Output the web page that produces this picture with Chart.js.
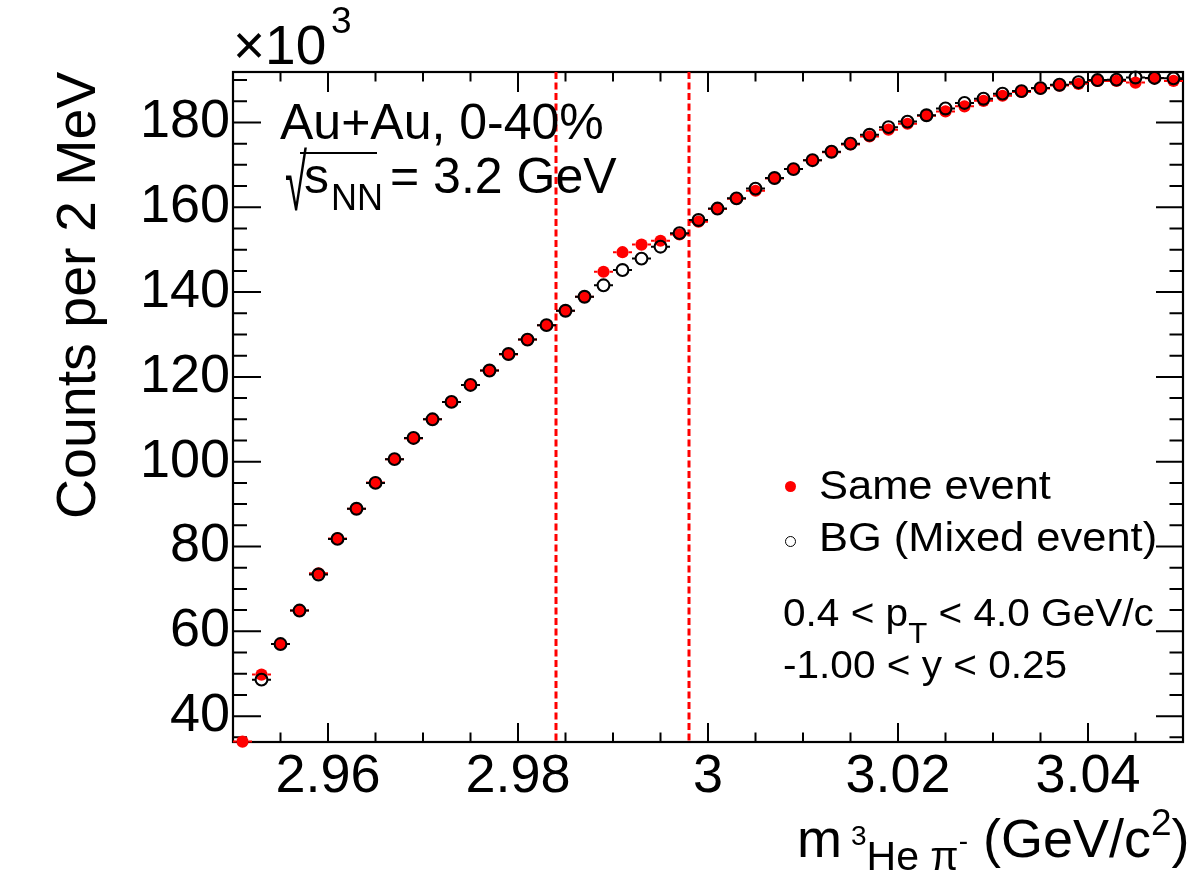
<!DOCTYPE html>
<html>
<head>
<meta charset="utf-8">
<title>Same event vs mixed event</title>
<script src="https://cdn.jsdelivr.net/npm/chart.js@4.4.1/dist/chart.umd.min.js"></script>
<style>
  html, body { margin: 0; padding: 0; background: #fff; }
  #wrap { position: relative; width: 1204px; height: 871px; overflow: hidden;
          font-family: 'Liberation Sans', Arial, Helvetica, sans-serif; color: #000; }
  #chart { position: absolute; left: 0; top: 0; }
  .txt { position: absolute; white-space: nowrap; line-height: 1; transform-origin: 0 0; }
  .rel { position: relative; }
  .mk { position: absolute; border-radius: 50%; box-sizing: border-box; }
</style>
</head>
<body>
<div id="wrap">
  <canvas id="chart" width="1204" height="871"></canvas>

  <!-- 軸の倍率 -->
  <div class="txt" style="left:233px;top:18px;font-size:55px;">×10</div>
  <div class="txt" style="left:331px;top:2px;font-size:37px;">3</div>

  <!-- 軸タイトル -->
  <div class="txt" id="ytitle" style="left:49px;top:520px;font-size:55.5px;transform:rotate(-90deg);">Counts per 2 MeV</div>
  <div class="txt" style="left:797px;top:811px;font-size:54px;">m<span class="rel" style="font-size:41px;top:13px;margin-left:9px;"><span class="rel" style="font-size:28px;top:-25px;">3</span>He π<span class="rel" style="font-size:28px;top:-20px;">-</span></span> (GeV/c<span class="rel" style="font-size:37px;top:-22px;">2</span>)</div>

  <!-- 注釈 -->
  <div class="txt" style="left:280px;top:97px;font-size:50px;">Au+Au, 0-40%</div>
  <div class="txt" style="left:285px;top:144px;font-size:50px;transform:scale(0.8,1.58);">√</div>
  <div style="position:absolute;left:300px;top:152px;width:77px;height:0;border-top:2px solid #000;"></div>
  <div class="txt" style="left:304px;top:151px;font-size:50px;">s</div>
  <div class="txt" style="left:331px;top:180px;font-size:36px;">NN</div>
  <div class="txt" style="left:390px;top:151px;font-size:50px;">= 3.2 GeV</div>

  <!-- 凡例 -->
  <div class="mk" style="left:785px;top:481px;width:11px;height:11px;background:#ff0000;"></div>
  <div class="mk" style="left:785px;top:536px;width:11px;height:11px;border:1.5px solid #000;"></div>
  <div class="txt" style="left:819px;top:465px;font-size:41px;transform:scaleX(1.06);">Same event</div>
  <div class="txt" style="left:819px;top:517px;font-size:41px;transform:scaleX(1.06);">BG (Mixed event)</div>

  <div class="txt" style="left:783px;top:593px;font-size:39px;transform:scaleX(1.04);">0.4 &lt; p<span class="rel" style="font-size:30px;top:17px;">T</span> &lt; 4.0 GeV/c</div>
  <div class="txt" style="left:783px;top:645px;font-size:39px;transform:scaleX(1.04);">-1.00 &lt; y &lt; 0.25</div>
</div>

<script>
// ビン中心 (GeV/c^2)、2 MeV 幅
const massBins = [
  2.951, 2.953, 2.955, 2.957, 2.959, 2.961, 2.963, 2.965, 2.967, 2.969,
  2.971, 2.973, 2.975, 2.977, 2.979, 2.981, 2.983, 2.985, 2.987, 2.989,
  2.991, 2.993, 2.995, 2.997, 2.999, 3.001, 3.003, 3.005, 3.007, 3.009,
  3.011, 3.013, 3.015, 3.017, 3.019, 3.021, 3.023, 3.025, 3.027, 3.029,
  3.031, 3.033, 3.035, 3.037, 3.039, 3.041, 3.043, 3.045, 3.047, 3.049,
];

// Same event のカウント (×10^3)
const sameEvent = [
  34.0, 49.8, 57.0, 64.9, 73.7, 81.9, 88.9, 95.1, 100.6, 105.5,
  110.0, 114.1, 118.1, 121.5, 125.3, 128.8, 132.2, 135.6, 138.9, 144.8,
  149.4, 151.2, 152.1, 153.6, 156.6, 159.6, 162.0, 163.9, 166.8, 169.0,
  171.1, 173.0, 174.8, 176.7, 178.3, 179.7, 181.6, 182.6, 183.8, 185.1,
  186.3, 187.2, 188.0, 188.7, 189.1, 189.8, 189.8, 189.4, 190.4, 189.8,
];

// 混合イベント (BG) のカウント (×10^3)、最初のビンは表示範囲外
const mixedEvent = [
  null, 48.6, 57.0, 64.9, 73.4, 81.8, 88.9, 95.0, 100.6, 105.6,
  110.0, 114.1, 118.1, 121.5, 125.4, 128.8, 132.2, 135.6, 138.9, 141.6,
  145.2, 147.9, 150.7, 153.9, 157.0, 159.7, 162.1, 164.4, 166.9, 169.0,
  171.1, 173.1, 175.0, 177.1, 178.9, 180.2, 181.7, 183.3, 184.6, 185.6,
  186.8, 187.4, 188.1, 188.9, 189.5, 190.0, 190.1, 190.6, 190.5, 190.4,
];

// 目盛り
const xTickValues = [2.96, 2.98, 3.00, 3.02, 3.04];
const xTickLabels = ['2.96', '2.98', '3', '3.02', '3.04'];
const yTickValues = [40, 60, 80, 100, 120, 140, 160, 180];
const yTickLabels = ['40', '60', '80', '100', '120', '140', '160', '180'];

// 信号領域の境界 (赤の破線)
const massWindow = [2.984, 2.998];

const X_MIN = 2.95, X_MAX = 3.05;
const Y_MIN = 33.9, Y_MAX = 191.9;
const BIN_HALF = 0.001;

// ROOT風のフレームと内向きの目盛り
const rootFrame = {
  id: 'rootFrame',
  beforeDatasetsDraw(chart) {
    const { ctx: c, chartArea: a, scales: { x, y } } = chart;
    c.save();
    c.strokeStyle = '#000';
    c.lineWidth = 2;
    c.beginPath();
    // x 軸: 0.005 ごとに小目盛り
    for (let k = 1; k < 20; k++) {
      const v = X_MIN + k * 0.005;
      const px = x.getPixelForValue(v);
      const major = xTickValues.some((t) => Math.abs(t - v) < 1e-6);
      const lb = major ? 19 : 9.5;
      const lt = major ? 20 : 9.5;
      c.moveTo(px, a.bottom); c.lineTo(px, a.bottom - lb);
      c.moveTo(px, a.top); c.lineTo(px, a.top + lt);
    }
    // y 軸: 5 ごとに小目盛り
    for (let v = 35; v < Y_MAX; v += 5) {
      const py = y.getPixelForValue(v);
      const major = yTickValues.includes(v);
      const ll = major ? 28 : 14;
      const lr = major ? 27 : 13.5;
      c.moveTo(a.left, py); c.lineTo(a.left + ll, py);
      c.moveTo(a.right, py); c.lineTo(a.right - lr, py);
    }
    c.stroke();
    c.lineWidth = 2.2;
    c.strokeRect(a.left, a.top, a.right - a.left, a.bottom - a.top);

    // 質量ウィンドウの破線
    c.strokeStyle = '#ff0000';
    c.lineWidth = 3;
    c.setLineDash([7, 3.5]);
    massWindow.forEach((m) => {
      const px = x.getPixelForValue(m);
      c.beginPath();
      c.moveTo(px, a.top);
      c.lineTo(px, a.bottom);
      c.stroke();
    });
    c.restore();
  },
};

// ビン幅の横エラーバー（マーカー内部は描かない）
const binErrorBars = {
  id: 'binErrorBars',
  beforeDatasetDraw(chart, args) {
    const ds = chart.data.datasets[args.index];
    const { ctx: c, scales: { x, y } } = chart;
    const r = ds.pointRadius;
    c.save();
    c.strokeStyle = ds.barColor;
    c.lineWidth = 2;
    c.beginPath();
    ds.data.forEach((p) => {
      if (p.y == null) return;
      const cx = x.getPixelForValue(p.x);
      const py = y.getPixelForValue(p.y);
      c.moveTo(x.getPixelForValue(p.x - BIN_HALF), py); c.lineTo(cx - r, py);
      c.moveTo(cx + r, py); c.lineTo(x.getPixelForValue(p.x + BIN_HALF), py);
    });
    c.stroke();
    c.restore();
  },
};

const toPoints = (vals) => massBins.map((m, i) => ({ x: m, y: vals[i] }));

new Chart(document.getElementById('chart').getContext('2d'), {
  type: 'scatter',
  data: {
    datasets: [
      {
        label: 'Same event',
        data: toPoints(sameEvent),
        order: 2,
        barColor: '#ff0000',
        pointRadius: 6.1,
        pointBackgroundColor: '#ff0000',
        pointBorderColor: '#ff0000',
        pointBorderWidth: 0,
        clip: false,
      },
      {
        label: 'BG (Mixed event)',
        data: toPoints(mixedEvent),
        order: 1,
        barColor: '#000000',
        pointRadius: 5.9,
        pointBackgroundColor: 'rgba(0,0,0,0)',
        pointBorderColor: '#000000',
        pointBorderWidth: 2.1,
        clip: false,
      },
    ],
  },
  options: {
    responsive: false,
    animation: false,
    events: [],
    layout: { padding: { left: 0, right: 21, top: 72, bottom: 0 } },
    plugins: {
      legend: { display: false },
      tooltip: { enabled: false },
    },
    scales: {
      x: {
        type: 'linear',
        min: X_MIN,
        max: X_MAX,
        afterFit: (scale) => { scale.height = 129; },
        afterBuildTicks: (scale) => { scale.ticks = xTickValues.map((v) => ({ value: v })); },
        grid: { display: false, drawTicks: false },
        border: { display: false },
        ticks: {
          autoSkip: false,
          maxRotation: 0,
          padding: 3,
          color: '#000',
          font: { family: "'Liberation Sans', Arial, sans-serif", size: 54 },
          callback: (v, i) => xTickLabels[i],
        },
      },
      y: {
        type: 'linear',
        min: Y_MIN,
        max: Y_MAX,
        afterFit: (scale) => { scale.width = 233; },
        afterBuildTicks: (scale) => { scale.ticks = yTickValues.map((v) => ({ value: v })); },
        grid: { display: false, drawTicks: false },
        border: { display: false },
        ticks: {
          padding: 3,
          color: '#000',
          font: { family: "'Liberation Sans', Arial, sans-serif", size: 54 },
          callback: (v, i) => yTickLabels[i],
        },
      },
    },
  },
  plugins: [rootFrame, binErrorBars],
});

// y 軸タイトルを軸の上端に揃える
const yt = document.getElementById('ytitle');
yt.style.top = (72 + yt.offsetWidth) + 'px';
</script>
</body>
</html>
